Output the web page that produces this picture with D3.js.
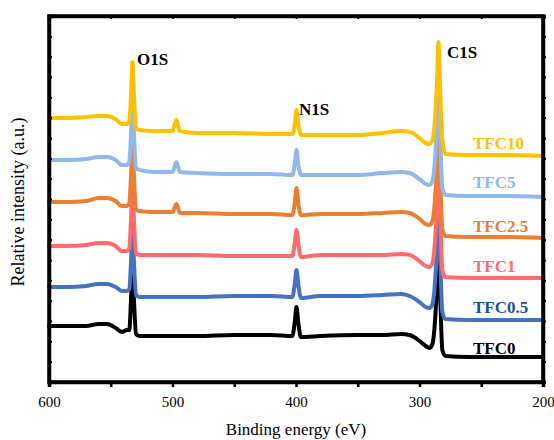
<!DOCTYPE html>
<html>
<head>
<meta charset="utf-8">
<script src="https://cdn.jsdelivr.net/npm/d3@7"></script>
<style>
  html, body { margin: 0; padding: 0; background: #fff; }
  svg { display: block; font-family: "Liberation Serif", "Times New Roman", serif; }
</style>
</head>
<body>
<svg id="chart" width="554" height="440"></svg>
<script>
// ---- data ----
const energy = [600, 585, 570, 560, 553, 546, 541, 537, 535, 533.6, 532.4, 531.2, 529.5, 527, 515, 500, 496.8, 494, 480, 450, 420, 403, 401, 399.6, 398.2, 396, 380, 350, 330, 315, 308, 300, 295, 292, 289.5, 287.5, 285.8, 284.6, 283.4, 281.5, 279, 260, 230, 200];

const seriesNames = ["TFC0", "TFC0.5", "TFC1", "TFC2.5", "TFC5", "TFC10"];

const tfc0   = [2.75, 2.75, 2.75, 2.85, 2.85, 2.66, 2.46, 2.56, 2.56, 4.03, 5.66, 4.03, 2.36, 2.26, 2.26, 2.26, 2.26, 2.26, 2.26, 2.31, 2.31, 2.26, 2.95, 3.69, 2.95, 2.21, 2.26, 2.31, 2.31, 2.36, 2.31, 2.02, 1.77, 1.67, 1.87, 2.95, 4.82, 6.79, 4.62, 1.57, 1.28, 1.23, 1.23, 1.23];
const tfc05  = [4.67, 4.67, 4.72, 4.82, 4.82, 4.67, 4.48, 4.48, 4.57, 5.90, 7.57, 5.90, 4.28, 4.18, 4.18, 4.18, 4.18, 4.18, 4.18, 4.23, 4.23, 4.18, 4.82, 5.51, 4.82, 4.13, 4.23, 4.23, 4.28, 4.33, 4.23, 3.93, 3.69, 3.64, 3.84, 4.87, 6.69, 8.61, 6.49, 3.44, 3.10, 3.05, 3.05, 3.05];
const tfc1   = [6.69, 6.69, 6.74, 6.84, 6.84, 6.69, 6.44, 6.44, 6.59, 7.97, 9.64, 7.97, 6.34, 6.25, 6.25, 6.25, 6.25, 6.25, 6.25, 6.20, 6.20, 6.20, 6.84, 7.48, 6.84, 6.15, 6.25, 6.25, 6.25, 6.30, 6.25, 5.95, 5.70, 5.66, 5.85, 6.89, 8.75, 10.67, 8.56, 5.51, 5.16, 5.11, 5.11, 5.11];
const tfc25  = [8.85, 8.85, 8.90, 9.05, 9.05, 8.90, 8.66, 8.66, 8.80, 10.13, 11.80, 10.13, 8.51, 8.41, 8.36, 8.36, 8.75, 8.31, 8.31, 8.26, 8.26, 8.21, 8.80, 9.54, 8.80, 8.21, 8.26, 8.26, 8.31, 8.36, 8.31, 8.02, 7.77, 7.72, 7.92, 8.95, 10.77, 12.64, 10.52, 7.52, 7.18, 7.13, 7.13, 7.08];
const tfc5   = [10.92, 10.92, 10.97, 11.07, 11.07, 10.92, 10.67, 10.67, 10.82, 12.15, 13.77, 12.15, 10.52, 10.43, 10.33, 10.33, 10.82, 10.33, 10.28, 10.23, 10.23, 10.18, 10.72, 11.41, 10.72, 10.18, 10.18, 10.18, 10.28, 10.33, 10.28, 9.98, 9.74, 9.69, 9.89, 10.92, 12.79, 14.66, 12.54, 9.54, 9.20, 9.15, 9.15, 9.10];
const tfc10  = [12.98, 12.98, 13.03, 13.08, 13.08, 12.93, 12.69, 12.69, 12.84, 14.11, 15.74, 14.11, 12.49, 12.39, 12.34, 12.34, 12.89, 12.34, 12.25, 12.25, 12.20, 12.20, 12.69, 13.38, 12.69, 12.15, 12.15, 12.15, 12.25, 12.34, 12.30, 12.00, 11.75, 11.70, 11.90, 12.89, 14.85, 16.72, 14.61, 11.90, 11.21, 11.16, 11.16, 11.11];

const xTicks = [600, 550, 500, 450, 400, 350, 300, 250, 200];
const xTickLabels = [600, 500, 400, 300, 200];
const yTicks = d3.range(0, 19);
const peakNames = ["O1S", "N1S", "C1S"];

// ---- styles / layout ----
const lineColors  = ["#000000", "#4472C4", "#FF6B6B", "#ED7D31", "#8FB8EE", "#FFC000"];
const labelColors = ["#000000", "#1F4E9E", "#FF6B6B", "#ED7D31", "#8FB8EE", "#FFC000"];
const labelBaselines = [354, 313, 272, 232, 188, 149];
const peakLabelPos = [[137, 65], [299, 115], [447, 58]];

const allSeries = [tfc0, tfc05, tfc1, tfc25, tfc5, tfc10];

const svg = d3.select("#chart");
const L = 49, R = 543, T = 16, B = 382;

const x = d3.scaleLinear().domain([600, 200]).range([L, R]);
const y = d3.scaleLinear().domain([0, 18]).range([B, T]);

// lines
const line = d3.line()
  .x((d, i) => x(energy[i]))
  .y(d => y(d))
  .curve(d3.curveMonotoneX);

svg.append("g").selectAll("path")
  .data(allSeries)
  .join("path")
  .attr("d", d => line(d))
  .attr("fill", "none")
  .attr("stroke", (d, i) => lineColors[i])
  .attr("stroke-width", 4)
  .attr("stroke-linejoin", "round")
  .attr("stroke-linecap", "round");

// axes
const fmt = d => xTickLabels.includes(d) ? d : "";
const gB = svg.append("g").attr("transform", `translate(0,${B})`)
  .call(d3.axisBottom(x).tickValues(xTicks).tickFormat(fmt).tickSize(5).tickPadding(9));
const gT = svg.append("g").attr("transform", `translate(0,${T})`)
  .call(d3.axisTop(x).tickValues(xTicks).tickFormat("").tickSize(-3));
const gL = svg.append("g").attr("transform", `translate(${L},0)`)
  .call(d3.axisLeft(y).tickValues(yTicks).tickFormat("").tickSize(-3));
const gR = svg.append("g").attr("transform", `translate(${R},0)`)
  .call(d3.axisRight(y).tickValues(yTicks).tickFormat("").tickSize(3));

[gB, gT, gL, gR].forEach(g => {
  g.select(".domain").attr("stroke", "#000").attr("stroke-width", 3.5);
  g.selectAll(".tick line").attr("stroke", "#000").attr("stroke-width", 2.5);
  g.selectAll("text").attr("font-family", "Liberation Serif, Times New Roman, serif")
    .attr("font-size", 15).attr("fill", "#000");
});
gT.selectAll(".tick line").attr("stroke-width", 1.5);
gL.selectAll(".tick line").attr("stroke-width", 2);
gR.selectAll(".tick line").attr("stroke-width", 2);

// frame corners cleanup (square joins)
svg.append("rect")
  .attr("x", L).attr("y", T).attr("width", R - L).attr("height", B - T)
  .attr("fill", "none").attr("stroke", "#000").attr("stroke-width", 3.5);

// axis titles
svg.append("text")
  .attr("x", (L + R) / 2).attr("y", 435)
  .attr("text-anchor", "middle")
  .attr("font-size", 17)
  .text("Binding energy (eV)");

svg.append("text")
  .attr("transform", `translate(24,${(T + B) / 2 + 3}) rotate(-90)`)
  .attr("text-anchor", "middle")
  .attr("font-size", 18)
  .text("Relative intensity (a.u.)");

// peak labels
svg.append("g").selectAll("text")
  .data(peakNames)
  .join("text")
  .attr("x", (d, i) => peakLabelPos[i][0])
  .attr("y", (d, i) => peakLabelPos[i][1])
  .attr("font-size", 17)
  .attr("font-weight", "bold")
  .text(d => d);

// series labels
svg.append("g").selectAll("text")
  .data(seriesNames)
  .join("text")
  .attr("x", 473)
  .attr("y", (d, i) => labelBaselines[i])
  .attr("font-size", 17)
  .attr("font-weight", "bold")
  .attr("fill", (d, i) => labelColors[i])
  .text(d => d);
</script>
</body>
</html>
